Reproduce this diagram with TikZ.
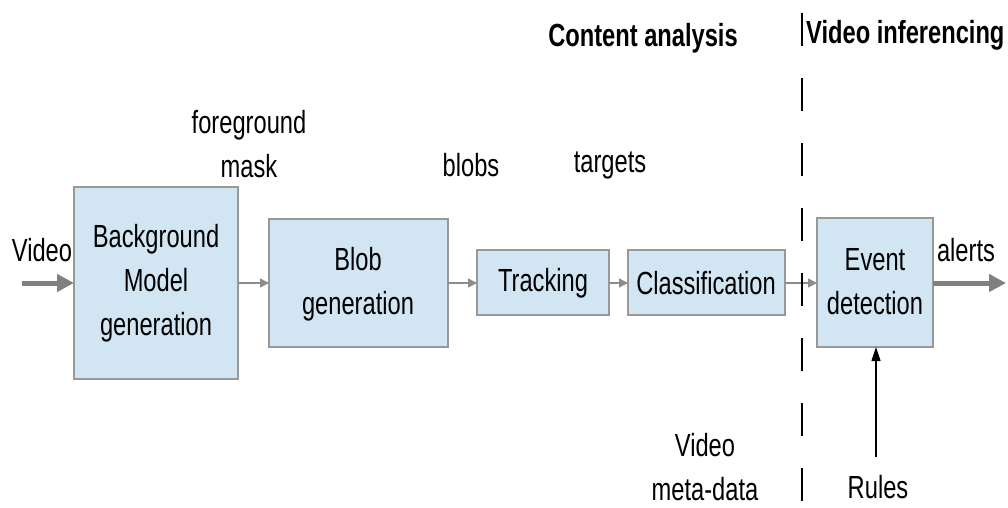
\documentclass[tikz,border=0pt]{standalone}
\usepackage{fontspec}
\setmainfont[FakeStretch=0.74]{Liberation Sans}
\usetikzlibrary{arrows.meta}
\begin{document}
\begin{tikzpicture}[x=1pt,y=-1pt,
  every node/.style={font=\fontsize{32}{44}\selectfont, inner sep=0pt, align=center},
  blk/.style={draw=black!40, line width=1.2pt, fill={rgb,255:red,210;green,229;blue,243}},
  thin/.style={draw=black!45, line width=1.5pt, -{Triangle[length=9pt,width=9pt]}},
  thick/.style={draw=black!50, line width=5pt, -{Triangle[length=17pt,width=17pt]}}]
\useasboundingbox (0,0) rectangle (1008,508);
\path[blk] (74,187) rectangle (238,379);
\node (bg) at (156,283) {Background\\Model\\generation};
\path[blk] (269,219) rectangle (448,347);
\node (blob) at (358,284) {Blob\\generation};
\path[blk] (477,250) rectangle (609,315);
\node (trk) at (543,283) {Tracking};
\path[blk] (628,250) rectangle (785,315);
\node (cls) at (706,283) {Classification};
\path[blk] (817,218) rectangle (933,347);
\node (ev) at (875,282) {Event\\detection};
\coordinate (bgW) at (74,283);
\coordinate (bgE) at (238,283);
\coordinate (blW) at (269,283);
\coordinate (blE) at (448,283);
\coordinate (trW) at (477,283);
\coordinate (trE) at (609,283);
\coordinate (clW) at (628,283);
\coordinate (clE) at (785,283);
\coordinate (evW) at (817,283);
\coordinate (evE) at (933,283);
\coordinate (evS) at (876,347);
\coordinate (vin) at (22,283);
\coordinate (aout) at (1006,283);
\coordinate (rs) at (876,457);
\draw[thick] (vin) -- (bgW);
\draw[thin] (bgE) -- (blW);
\draw[thin] (blE) -- (trW);
\draw[thin] (trE) -- (clW);
\draw[thin] (clE) -- (evW);
\draw[thick] (evE) -- (aout);
\draw[line width=1.2pt, -{Triangle[length=14pt,width=9pt]}] (rs) -- (evS);
\draw[line width=1.2pt, dash pattern=on 33pt off 32pt] (802,13) -- (802,505);
\node (video) at (42,250) {Video};
\node (alerts) at (966,250) {alerts};
\node (fg) at (249,144) {foreground\\mask};
\node (blobs) at (471,165) {blobs};
\node (targets) at (610,165) {targets};
\node (meta) at (705,467) {Video\\meta-data};
\node (rules) at (878,487) {Rules};
\node[font=\fontsize{32}{44}\selectfont\bfseries] (ca) at (643,38) {Content analysis};
\node[font=\fontsize{32}{44}\selectfont\bfseries, anchor=west] (vi) at (806,35) {Video inferencing};
\end{tikzpicture}
\end{document}
